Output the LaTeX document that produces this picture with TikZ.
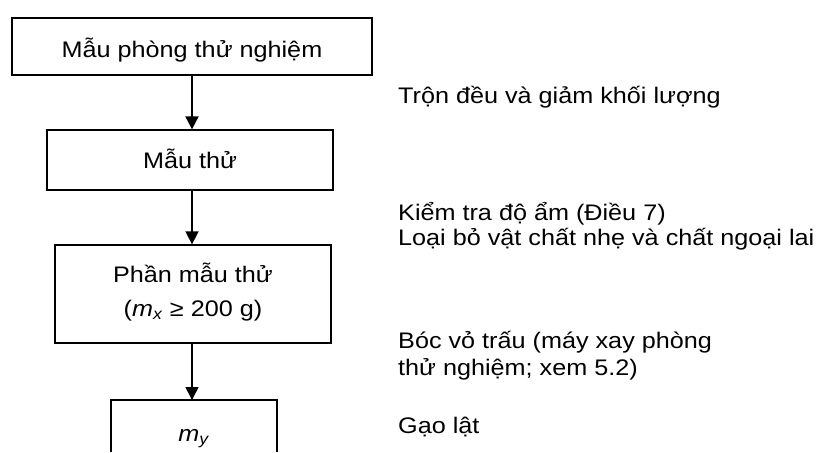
\documentclass[tikz,border=0pt]{standalone}
\usepackage{fontspec}
\setmainfont{Liberation Sans}[FakeStretch=1.12]
\usetikzlibrary{arrows.meta}
\begin{document}
\begin{tikzpicture}[x=1pt,y=-1pt,
  every node/.style={font=\fontsize{22.5}{23}\selectfont, inner sep=0pt},
  box/.style={draw, line width=1.3pt, rectangle},
  flow/.style={line width=1.6pt, -{Triangle[width=13pt,length=13pt]}},
  note/.style={anchor=base west, align=left}]
\useasboundingbox (0,0) rectangle (826,452);

% process boxes
\node[box, minimum width=360pt, minimum height=57pt] (b1) at (192,46.5) {};
\node[anchor=base] (t1) at (192,57) {Mẫu phòng thử nghiệm};
\node[box, minimum width=286pt, minimum height=60pt] (b2) at (190,160) {};
\node[anchor=base] (t2) at (190,168) {Mẫu thử};
\node[box, minimum width=276pt, minimum height=98pt] (b3) at (193,294) {};
\node[anchor=base] (t3a) at (193,282) {Phần mẫu thử};
\node[anchor=base] (t3b) at (193,316) {(\textit{m}\textsubscript{\textit{x}} ≥ 200 g)};

% last box, open at the lower edge
\coordinate (b4nw) at (111,400);
\coordinate (b4ne) at (277,400);
\coordinate (b4n) at (192,400);
\draw[line width=1.3pt] (111,452) -- (b4nw) -- (b4ne) -- (277,452);
\node[anchor=base] (t4) at (194,441) {\textit{m}\textsubscript{\textit{y}}};

% connectors
\draw[flow, line width=2pt] (b1.south -| 192,0) -- (b2.north -| 192,0);
\draw[flow] (b2.south -| 192,0) -- (b3.north -| 192,0);
\draw[flow] (b3.south -| 192,0) -- (b4n);

% step descriptions
\node[note] (n1) at (398,103) {Trộn đều và giảm khối lượng};
\node[note] (n2a) at (398,220) {Kiểm tra độ ẩm (Điều 7)};
\node[note] (n2b) at (398,245) {Loại bỏ vật chất nhẹ và chất ngoại lai};
\node[note] (n3a) at (398,348) {Bóc vỏ trấu (máy xay phòng};
\node[note] (n3b) at (398,375) {thử nghiệm; xem 5.2)};
\node[note] (n4) at (398,433) {Gạo lật};
\end{tikzpicture}
\end{document}
